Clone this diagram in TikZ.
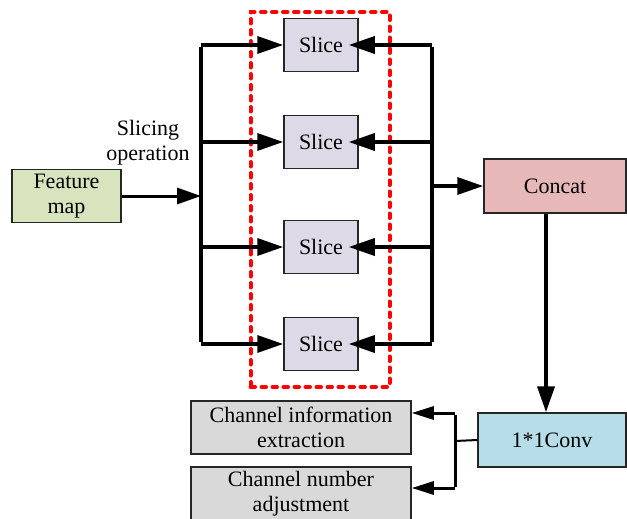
\documentclass[tikz,border=0pt]{standalone}
\usepackage{fontspec}
\setmainfont{Liberation Serif}
\newfontfamily\tnrfont{Liberation Serif}
\usetikzlibrary{arrows.meta}
\begin{document}
\begin{tikzpicture}[x=1pt,y=-1pt,
  every node/.style={font=\tnrfont\fontsize{22}{25}\selectfont},
  box/.style={draw=black!85, line width=1.5pt, inner sep=0pt, align=center},
  bus/.style={line width=4pt},
  br/.style={line width=3.5pt, -{Triangle[length=26pt,width=17pt]}},
  fmline/.style={line width=3pt, -{Triangle[length=24pt,width=16pt]}},
  outarr/.style={line width=3pt, -{Triangle[length=22pt,width=13pt]}},
  thinl/.style={line width=2pt}]
\useasboundingbox (0,0) rectangle (627,519);
\definecolor{fmgreen}{HTML}{D7E4BD}
\definecolor{slicec}{HTML}{DDD9E6}
\definecolor{concatc}{HTML}{E6B9B8}
\definecolor{convc}{HTML}{B7DEE8}
\definecolor{grayc}{HTML}{D9D9D9}

\node[box, fill=fmgreen, minimum width=109pt, minimum height=53pt] (fm) at (66.5,196) {Feature\\map};
\node[box, fill=slicec, minimum width=74pt, minimum height=53pt] (s1) at (321,45) {Slice};
\node[box, fill=slicec, minimum width=74pt, minimum height=53pt] (s2) at (321,142) {Slice};
\node[box, fill=slicec, minimum width=74pt, minimum height=53pt] (s3) at (321,247) {Slice};
\node[box, fill=slicec, minimum width=74pt, minimum height=53pt] (s4) at (321,344) {Slice};
\node[box, fill=concatc, minimum width=142pt, minimum height=54pt] (concat) at (555,186) {Concat};
\node[box, fill=convc, minimum width=148pt, minimum height=54pt] (conv) at (552,440) {1*1Conv};
\node[box, fill=grayc, minimum width=220pt, minimum height=53pt] (ci) at (301,427.5) {Channel information\\extraction};
\node[box, fill=grayc, minimum width=220pt, minimum height=53pt] (cn) at (301,493.5) {Channel number\\adjustment};
\node[align=center] (lbl) at (148,143) {Slicing\\operation};

% red dashed group
\node[draw=red, line width=4pt, dash pattern=on 4.5pt off 6.5pt, line cap=round,
  minimum width=139pt, minimum height=375pt, inner sep=0pt] (grp) at (320,199.5) {};

% left bus
\coordinate (lt) at (201,45);
\coordinate (lb) at (201,344);
\coordinate (lm) at (201,196);
\draw[bus] ([yshift=-2pt]lt) -- ([yshift=2pt]lb);
\draw[fmline] (fm.east) -- (lm);
\foreach \s in {s1,s2,s3,s4}{
  \draw[br] (lt |- \s.west) -- (\s.west);
}
% right bus
\coordinate (rt) at (432,45);
\coordinate (rb) at (432,344);
\coordinate (rm) at (432,186);
\draw[bus] ([yshift=-2pt]rt) -- ([yshift=2pt]rb);
\foreach \s in {s1,s2,s3,s4}{
  \draw[br] (rt |- \s.east) -- ([xshift=-10pt]\s.east);
}
\draw[br] (rm) -- (concat.west);
% concat to conv
\draw[line width=4pt, -{Triangle[length=26pt,width=17pt]}] ([xshift=-9pt]concat.south) -- ([xshift=-9pt]concat.south |- conv.north);
% conv to outputs
\coordinate (cj) at (455,441);
\coordinate (ct) at (455,413);
\coordinate (cb) at (455,488);
\draw[thinl] (conv.west) -- (cj);
\draw[line width=3pt] ([yshift=-1.5pt]ct) -- ([yshift=1.5pt]cb);
\draw[outarr] (ct) -- (ct -| ci.east);
\draw[outarr] (cb) -- (cb -| cn.east);
\end{tikzpicture}
\end{document}
